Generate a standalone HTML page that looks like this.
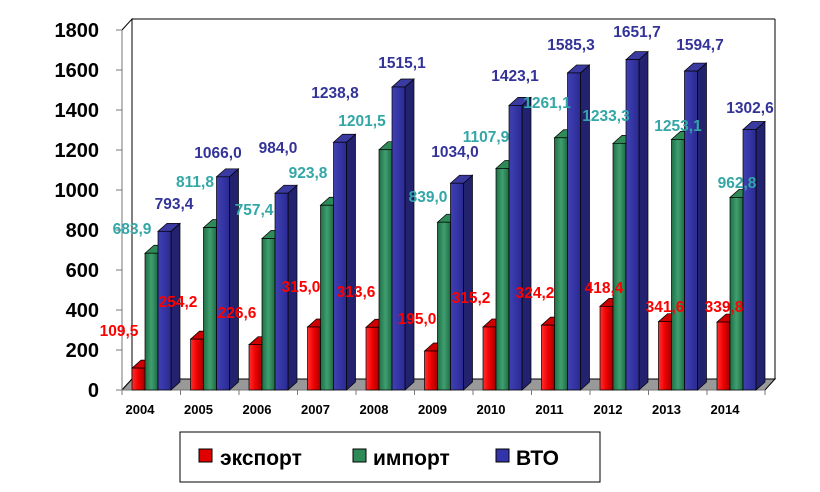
<!DOCTYPE html>
<html><head><meta charset="utf-8"><style>
body{margin:0;background:#fff}
svg{display:block;font-family:"Liberation Sans",Arial,sans-serif;font-weight:bold}
</style></head><body>
<svg id="s" width="820" height="492" viewBox="0 0 820 492" xmlns="http://www.w3.org/2000/svg">
<defs>
<linearGradient id="gr" x1="0" x2="1"><stop offset="0" stop-color="#ff3030"/><stop offset="0.5" stop-color="#ee0000"/><stop offset="1" stop-color="#a00000"/></linearGradient>
<linearGradient id="gg" x1="0" x2="1"><stop offset="0" stop-color="#1f6f45"/><stop offset="0.5" stop-color="#3f9f70"/><stop offset="1" stop-color="#1f6a40"/></linearGradient>
<linearGradient id="gb" x1="0" x2="1"><stop offset="0" stop-color="#4040b0"/><stop offset="0.5" stop-color="#3535a5"/><stop offset="1" stop-color="#2a2a90"/></linearGradient>
</defs>
<g id="chart"></g>
<rect x="180" y="432" width="420" height="50" fill="#fff" stroke="#000" stroke-width="1"/>
<rect x="199" y="449" width="13" height="13" fill="#e00000" stroke="#000"/>
<text x="220" y="465" font-size="21">экспорт</text>
<rect x="353" y="449" width="13" height="13" fill="#2e8b57" stroke="#000"/>
<text x="373" y="465" font-size="21">импорт</text>
<rect x="496" y="449" width="13" height="13" fill="#3333aa" stroke="#000"/>
<text x="516" y="465" font-size="21">ВТО</text>
</svg>
<script>
const g=document.getElementById('chart');let h='';
const X0=122,Y0=390,DX=10,DY=11,S=0.2,W=58.5;
h+=`<polygon points="${X0},${Y0} ${X0+DX},${Y0-DY} ${X0+DX},19 ${X0},30" fill="#fff" stroke="#000"/>`;
h+=`<line x1="${X0+DX}" y1="19" x2="775" y2="19" stroke="#000"/>`;
h+=`<line x1="775" y1="19" x2="775" y2="${Y0-DY}" stroke="#000"/>`;
h+=`<polygon points="${X0},${Y0} ${X0+DX},${Y0-DY} 775,${Y0-DY} 765,${Y0}" fill="#999" stroke="#000"/>`;
for(let v=0;v<=1800;v+=200){const y=Y0-v*S;h+=`<line x1="116" y1="${y}" x2="${X0}" y2="${y}" stroke="#777"/><text x="99" y="${y+7}" font-size="20" text-anchor="end">${v}</text>`;}
h+=`<line x1="${X0}" y1="${Y0}" x2="${X0}" y2="30" stroke="#777"/>`;
h+=`<line x1="${X0}" y1="${Y0}" x2="765" y2="${Y0}" stroke="#777"/>`;
const yrs=[2004,2005,2006,2007,2008,2009,2010,2011,2012,2013,2014];
const ex=[109.5,254.2,226.6,315.0,313.6,195.0,315.2,324.2,418.4,341.6,339.8];
const im=[683.9,811.8,757.4,923.8,1201.5,839.0,1107.9,1261.1,1233.3,1253.1,962.8];
const vt=[793.4,1066.0,984.0,1238.8,1515.1,1034.0,1423.1,1585.3,1651.7,1594.7,1302.6];
const fills=[['url(#gr)','#b00000','#cc0000'],['url(#gg)','#1d5e3a','#2e8b57'],['url(#gb)','#22226e','#3a3aa0']];
function bar(x,v,f){const t=Y0-v*S,w=13,d=9,e=8;
return `<polygon points="${x+w},${Y0} ${x+w+d},${Y0-e} ${x+w+d},${t-e} ${x+w},${t}" fill="${f[1]}" stroke="#000" stroke-width="0.7"/>`+
`<polygon points="${x},${t} ${x+d},${t-e} ${x+w+d},${t-e} ${x+w},${t}" fill="${f[2]}" stroke="#000" stroke-width="0.7"/>`+
`<rect x="${x}" y="${t}" width="${w}" height="${v*S}" fill="${f[0]}" stroke="#000" stroke-width="0.7"/>`;}
yrs.forEach((yr,i)=>{const x=X0+i*W+10;
h+=`<line x1="${X0+i*W}" y1="${Y0}" x2="${X0+i*W}" y2="${Y0+5}" stroke="#777"/>`;
h+=bar(x,ex[i],fills[0])+bar(x+13,im[i],fills[1])+bar(x+26,vt[i],fills[2]);
h+=`<text x="${X0+i*W+18}" y="414" font-size="13" text-anchor="middle">${yr}</text>`;});
h+=`<line x1="765" y1="${Y0}" x2="765" y2="${Y0+5}" stroke="#777"/>`;
const L=[['#ff0000',[['109,5',119,336],['254,2',178,307],['226,6',237,318],['315,0',301,292],['313,6',356,297],['195,0',417,324],['315,2',471,303],['324,2',535,298],['418,4',604,293],['341,6',665,312],['339,8',724,312]]],
['#33a6a6',[['683,9',132,234],['811,8',195,187],['757,4',254,215],['923,8',308,178],['1201,5',362,126],['839,0',428,202],['1107,9',486,142],['1261,1',547,108],['1233,3',606,121],['1253,1',678,131],['962,8',737,188]]],
['#333399',[['793,4',174,209],['1066,0',218,158],['984,0',278,153],['1238,8',335,98],['1515,1',402,68],['1034,0',455,157],['1423,1',515,81],['1585,3',571,50],['1651,7',637,37],['1594,7',700,50],['1302,6',750,113]]]];
L.forEach(([c,a])=>a.forEach(([t,x,y])=>{h+=`<text x="${x}" y="${y}" font-size="15.5" fill="${c}" text-anchor="middle">${t}</text>`;}));
g.innerHTML=h;
</script>
</body></html>
